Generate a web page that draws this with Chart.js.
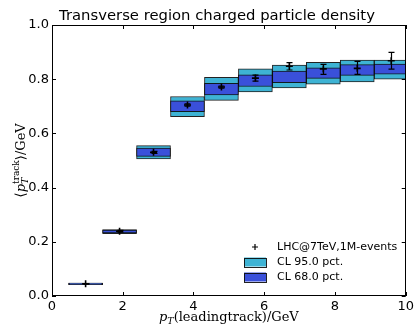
<!DOCTYPE html>
<html>
<head>
<meta charset="utf-8">
<script src="https://cdn.jsdelivr.net/npm/chart.js@4/dist/chart.umd.min.js"></script>
<style>
  html, body { margin: 0; padding: 0; background: #fff; }
  #wrap { width: 417px; height: 326px; position: relative; }
</style>
</head>
<body>
<div id="wrap"><canvas id="c" width="417" height="326"></canvas></div>
<script>
// ---- data ----
const binCenters = [0.95, 1.91, 2.87, 3.83, 4.79, 5.75, 6.71, 7.67, 8.63, 9.59];
const meanPt     = [0.045, 0.239, 0.530, 0.705, 0.771, 0.804, 0.848, 0.838, 0.840, 0.868];
const errLow     = [0.044, 0.236, 0.526, 0.701, 0.767, 0.793, 0.834, 0.818, 0.818, 0.837];
const errHigh    = [0.046, 0.242, 0.534, 0.709, 0.775, 0.815, 0.861, 0.855, 0.866, 0.899];
const cl95Low    = [0.042, 0.230, 0.506, 0.662, 0.722, 0.753, 0.768, 0.782, 0.790, 0.800];
const cl95High   = [0.048, 0.245, 0.555, 0.736, 0.807, 0.838, 0.852, 0.862, 0.871, 0.871];
const cl68Low    = [0.042, 0.233, 0.515, 0.680, 0.742, 0.773, 0.787, 0.803, 0.814, 0.819];
const cl68High   = [0.048, 0.243, 0.546, 0.720, 0.785, 0.816, 0.830, 0.842, 0.854, 0.856];
const xTicks = [0, 2, 4, 6, 8, 10];
const yTicks = [0.0, 0.2, 0.4, 0.6, 0.8, 1.0];
const titleText = "Transverse region charged particle density";
const legendLabels = ["LHC@7TeV,1M-events", "CL 95.0 pct.", "CL 68.0 pct."];

const C95 = 'rgb(62,179,212)';
const C68 = 'rgb(58,80,218)';
const EDGE = 'rgba(10,10,10,0.9)';

const SANS = '"DejaVu Sans", sans-serif';
const SERIF = '"DejaVu Serif", "Liberation Serif", serif';

function drawPieces(ctx, pieces, x, y) {
  let w = 0;
  const widths = pieces.map(p => {
    ctx.font = p.font;
    let pw = ctx.measureText(p.t).width;
    if (p.stack) { ctx.font = p.stack.font; pw = Math.max(pw, ctx.measureText(p.stack.t).width); }
    return pw;
  });
  widths.forEach(v => w += v);
  let cx = x - w / 2;
  pieces.forEach((p, i) => {
    ctx.font = p.font;
    ctx.fillText(p.t, cx, y + (p.dy || 0));
    if (p.stack) {
      ctx.font = p.stack.font;
      ctx.fillText(p.stack.t, cx, y + p.stack.dy);
    }
    cx += widths[i];
  });
}

const decorPlugin = {
  id: 'decor',
  afterDatasetsDraw(chart) {
    const ctx = chart.ctx;
    const xs = chart.scales.x, ys = chart.scales.y;
    const a = chart.chartArea;
    ctx.save();
    ctx.beginPath();
    ctx.rect(a.left, a.top, a.right - a.left, a.bottom - a.top);
    ctx.clip();
    ctx.strokeStyle = '#000';
    ctx.lineWidth = 1.2;
    for (let i = 0; i < binCenters.length; i++) {
      const px = Math.round(xs.getPixelForValue(binCenters[i])) + 0.5;
      const y1 = ys.getPixelForValue(errLow[i]);
      const y2 = ys.getPixelForValue(errHigh[i]);
      ctx.beginPath();
      ctx.moveTo(px, y1); ctx.lineTo(px, y2);
      ctx.moveTo(px - 3, y1); ctx.lineTo(px + 3, y1);
      ctx.moveTo(px - 3, y2); ctx.lineTo(px + 3, y2);
      ctx.stroke();
    }
    ctx.restore();
  },
  afterDraw(chart) {
    const ctx = chart.ctx;
    const xs = chart.scales.x, ys = chart.scales.y;
    const a = chart.chartArea;
    ctx.save();
    ctx.strokeStyle = '#000';
    ctx.lineWidth = 1;
    ctx.strokeRect(Math.round(a.left) + 0.5, Math.round(a.top) + 0.5,
                   Math.round(a.right - a.left) - 1, Math.round(a.bottom - a.top) - 1);
    ctx.beginPath();
    xTicks.forEach(v => {
      const px = Math.round(xs.getPixelForValue(v)) + 0.5;
      ctx.moveTo(px, a.bottom); ctx.lineTo(px, a.bottom - 4);
      ctx.moveTo(px, a.top); ctx.lineTo(px, a.top + 4);
    });
    yTicks.forEach(v => {
      const py = Math.round(ys.getPixelForValue(v)) + 0.5;
      ctx.moveTo(a.left, py); ctx.lineTo(a.left + 4, py);
      ctx.moveTo(a.right, py); ctx.lineTo(a.right - 4, py);
    });
    ctx.stroke();

    // title
    ctx.fillStyle = '#000';
    ctx.textAlign = 'center';
    ctx.textBaseline = 'alphabetic';
    ctx.font = '14.8px ' + SANS;
    ctx.fillText(titleText, 217, 20);

    // x label
    ctx.textAlign = 'left';
    drawPieces(ctx, [
      {t: 'p', font: 'italic 13px ' + SERIF},
      {t: 'T', font: 'italic 9.5px ' + SERIF, dy: 3},
      {t: '(leadingtrack)/GeV', font: '13px ' + SERIF}
    ], (a.left + a.right) / 2, 321);

    // y label (rotated)
    ctx.save();
    ctx.translate(20, (a.top + a.bottom) / 2);
    ctx.rotate(-Math.PI / 2);
    drawPieces(ctx, [
      {t: '\u27E8', font: '14px ' + SERIF},
      {t: 'p', font: 'italic 13px ' + SERIF},
      {t: 'T', font: 'italic 9.5px ' + SERIF, dy: 3, stack: {t: 'track', font: '9px ' + SERIF, dy: -6}},
      {t: '\u27E9/GeV', font: '13px ' + SERIF}
    ], 0, 5);
    ctx.restore();

    // legend
    const lx = 244, lw = 22, lh = 9, tx = 277;
    const rows = [247, 262, 277];
    ctx.font = '11px ' + SANS;
    ctx.textBaseline = 'middle';
    ctx.textAlign = 'left';
    ctx.strokeStyle = '#000';
    ctx.lineWidth = 1.2;
    ctx.beginPath();
    ctx.moveTo(lx + lw / 2 - 3, rows[0]); ctx.lineTo(lx + lw / 2 + 3, rows[0]);
    ctx.moveTo(lx + lw / 2, rows[0] - 3); ctx.lineTo(lx + lw / 2, rows[0] + 3);
    ctx.stroke();
    ctx.fillText(legendLabels[0], tx, rows[0]);
    [[C95, rows[1], legendLabels[1]], [C68, rows[2], legendLabels[2]]].forEach(([col, ry, lab]) => {
      ctx.fillStyle = col;
      ctx.fillRect(lx, ry - lh / 2, lw, lh);
      ctx.strokeStyle = EDGE;
      ctx.lineWidth = 1;
      ctx.strokeRect(lx + 0.5, Math.round(ry - lh / 2) + 0.5, lw, lh);
      ctx.fillStyle = '#000';
      ctx.fillText(lab, tx, ry);
    });
    ctx.restore();
  }
};

const barCommon = {
  type: 'bar',
  grouped: false,
  barPercentage: 1.0,
  categoryPercentage: 1.0,
  borderColor: EDGE,
  borderWidth: 1,
  borderSkipped: false,
};

new Chart(document.getElementById('c'), {
  type: 'bar',
  data: {
    datasets: [
      {
        type: 'scatter',
        label: legendLabels[0],
        data: binCenters.map((x, i) => ({x: x, y: meanPt[i]})),
        pointStyle: 'cross',
        pointRadius: 3.5,
        pointBorderWidth: 1.6,
        borderColor: '#000',
        backgroundColor: '#000',
        order: 0
      },
      Object.assign({}, barCommon, {
        label: legendLabels[2],
        data: binCenters.map((x, i) => ({x: x, y: [cl68Low[i], cl68High[i]]})),
        backgroundColor: C68,
        order: 1
      }),
      Object.assign({}, barCommon, {
        label: legendLabels[1],
        data: binCenters.map((x, i) => ({x: x, y: [cl95Low[i], cl95High[i]]})),
        backgroundColor: C95,
        order: 2
      })
    ]
  },
  options: {
    responsive: false,
    animation: false,
    events: [],
    layout: { padding: { left: 0, right: 11, top: 25, bottom: 0 } },
    plugins: { legend: { display: false }, tooltip: { enabled: false }, title: { display: false } },
    scales: {
      x: {
        type: 'linear',
        min: 0, max: 10,
        offset: false,
        afterFit: s => { s.height = 30; },
        afterBuildTicks: s => { s.ticks = xTicks.map(v => ({value: v})); },
        ticks: { padding: 3, color: '#000', font: { family: SANS, size: 13 }, maxRotation: 0,
                 callback: v => String(v) },
        grid: { display: false, drawTicks: false },
        border: { display: false }
      },
      y: {
        type: 'linear',
        min: 0, max: 1,
        afterFit: s => { s.width = 52; },
        afterBuildTicks: s => { s.ticks = yTicks.map(v => ({value: v})); },
        ticks: { padding: 3, color: '#000', font: { family: SANS, size: 13 },
                 callback: v => Number(v).toFixed(1) },
        grid: { display: false, drawTicks: false },
        border: { display: false }
      }
    }
  },
  plugins: [decorPlugin]
});
</script>
</body>
</html>
